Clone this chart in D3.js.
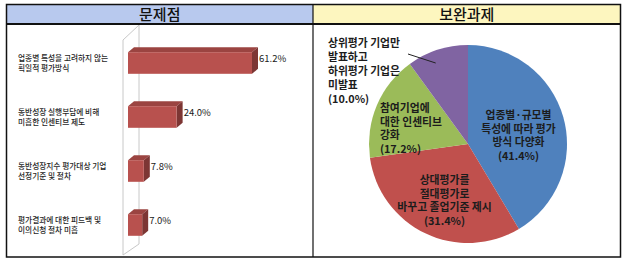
<!DOCTYPE html>
<html>
<head>
<meta charset="utf-8">
<script src="https://cdn.jsdelivr.net/npm/d3@7"></script>
<style>
  body { margin: 0; background: #fff; }
  svg { display: block; }
  text { font-family: "Noto Sans CJK KR", "Noto Sans", sans-serif; }
</style>
</head>
<body>
<svg width="627" height="266"></svg>
<script>
'use strict'

// left chart: problems
const barCategories = [
    ['업종별 특성을 고려하지 않는', '획일적 평가방식'],
    ['동반성장 실행부담에 비해', '미흡한 인센티브 제도'],
    ['동반성장지수 평가대상 기업', '선정기준 및 절차'],
    ['평가결과에 대한 피드백 및', '이의신청 절차 미흡']
]
const barValues = [61.2, 24.0, 7.8, 7.0]

// right chart: remedies
const pieLabels = [
    ['업종별·규모별', '특성에 따라 평가', '방식 다양화'],
    ['상대평가를', '절대평가로', '바꾸고 졸업기준 제시'],
    ['참여기업에', '대한 인센티브', '강화'],
    ['상위평가 기업만', '발표하고', '하위평가 기업은', '미발표']
]
const pieValues = [41.4, 31.4, 17.2, 10.0]

const headers = ['문제점', '보완과제']
const pieColors = ['#4f81bd', '#c0504d', '#9bbb59', '#8064a2']

const svg = d3.select('svg')

// table frame
const tLeft = 6.5, tRight = 620.5, tTop = 4.5, tBottom = 257, tMid = 313, headBottom = 24

svg.append('rect')
    .attr('x', tLeft).attr('y', tTop)
    .attr('width', tMid - tLeft).attr('height', headBottom - tTop)
    .attr('fill', '#b8c9ee')
svg.append('rect')
    .attr('x', tMid).attr('y', tTop)
    .attr('width', tRight - tMid).attr('height', headBottom - tTop)
    .attr('fill', '#fdf6bf')

svg.selectAll('.head')
    .data(headers)
    .enter()
    .append('text')
    .attr('class', 'head')
    .attr('x', (d, i) => i === 0 ? (tLeft + tMid) / 2 : (tMid + tRight) / 2)
    .attr('y', 14.5)
    .attr('dy', '0.35em')
    .attr('text-anchor', 'middle')
    .attr('font-size', 15)
    .attr('font-weight', 500)
    .attr('fill', '#111')
    .text((d) => d)

// ---------- bar chart ----------
const xScale = d3.scaleLinear()
    .domain([0, 61.2])
    .range([128, 252])

const yScale = d3.scaleBand()
    .domain(d3.range(barValues.length))
    .range([36, 252])
    .paddingInner(0.6)
    .paddingOuter(0.3)

const dx = 6, dy = -5
const x0 = xScale(0)

// 3d walls
const wall = svg.append('g')
    .attr('stroke', '#c8c8c8')
    .attr('stroke-width', 1)
    .attr('fill', 'none')
wall.append('path').attr('d', `M${x0 - 5},40 L${x0 - 5},255 L${x0 + 11},244 L${x0 + 11},25`)
wall.append('path').attr('d', `M${x0 - 5},40 L${x0 + 11},25`)

const barGroups = svg.selectAll('.bar')
    .data(barValues)
    .enter()
    .append('g')
    .attr('class', 'bar')

const bw = yScale.bandwidth()

barGroups.append('path')
    .attr('fill', '#9b4441')
    .attr('d', (d, i) => {
        const y = yScale(i), x1 = xScale(d)
        return `M${x0},${y} L${x1},${y} L${x1 + dx},${y + dy} L${x0 + dx},${y + dy} Z`
    })

barGroups.append('path')
    .attr('fill', '#7d3634')
    .attr('d', (d, i) => {
        const y = yScale(i), x1 = xScale(d)
        return `M${x1},${y} L${x1 + dx},${y + dy} L${x1 + dx},${y + bw + dy} L${x1},${y + bw} Z`
    })

barGroups.append('rect')
    .attr('x', x0)
    .attr('y', (d, i) => yScale(i))
    .attr('width', (d) => xScale(d) - x0)
    .attr('height', bw)
    .attr('fill', '#b8514e')

barGroups.append('text')
    .attr('x', (d) => xScale(d) + dx + 1)
    .attr('y', (d, i) => yScale(i) + bw / 2 - 4)
    .attr('dy', '0.35em')
    .attr('font-size', 9.5)
    .attr('fill', '#1a1a1a')
    .text((d) => `${d.toFixed(1)}%`)

const catText = svg.selectAll('.cat')
    .data(barCategories)
    .enter()
    .append('text')
    .attr('class', 'cat')
    .attr('x', 18)
    .attr('y', (d, i) => yScale(i) + bw / 2 - 4.5)
    .attr('font-size', 7.7)
    .attr('font-weight', 500)
    .attr('fill', '#1e1e1e')

catText.selectAll('tspan')
    .data((d) => d)
    .enter()
    .append('tspan')
    .attr('x', 18)
    .attr('dy', (d, i) => i === 0 ? '0.35em' : 9.5)
    .text((d) => d)

// ---------- pie chart ----------
const cx = 468, cy = 144, radius = 99

const pie = d3.pie()
    .sort(null)
    .value((d) => d)

const arcs = pie(pieValues)
const arc = d3.arc().innerRadius(0).outerRadius(radius)
const labelArc = d3.arc().innerRadius(radius * 0.55).outerRadius(radius * 0.55)
const outArc = d3.arc().innerRadius(radius * 0.86).outerRadius(radius * 0.86)

const pieG = svg.append('g')
    .attr('transform', `translate(${cx},${cy})`)

pieG.selectAll('path')
    .data(arcs)
    .enter()
    .append('path')
    .attr('d', arc)
    .attr('fill', (d, i) => pieColors[i])

// label placement tweaks (layout only)
const labelShift = [
    { x: -2, y: -14, anchor: 'middle' },
    { x: 0, y: -12.5, anchor: 'middle' },
    { x: -38, y: -14, anchor: 'start' },
    null
]

const pieText = pieG.selectAll('.plabel')
    .data(arcs)
    .enter()
    .append('text')
    .attr('class', 'plabel')
    .attr('font-size', 10.8)
    .attr('font-weight', 'bold')
    .attr('fill', '#1c1c1c')
    .attr('text-anchor', (d, i) => labelShift[i] ? labelShift[i].anchor : 'start')

pieText.each(function(d, i) {
    let px, py
    const lineH = i === 3 ? 14 : 13.5
    if (labelShift[i]) {
        const c = labelArc.centroid(d)
        px = c[0] + labelShift[i].x
        py = c[1] + labelShift[i].y
    } else {
        px = 328 - cx
        py = 43 - cy
    }
    const lines = pieLabels[i].concat([`(${pieValues[i].toFixed(1)}%)`])
    d3.select(this).selectAll('tspan')
        .data(lines)
        .enter()
        .append('tspan')
        .attr('x', px)
        .attr('y', (l, k) => py + k * lineH)
        .attr('dy', '0.35em')
        .text((l) => l)
})

// leader line for the outside label
const lp = outArc.centroid(arcs[3])
pieG.append('line')
    .attr('x1', 408 - cx)
    .attr('y1', 54 - cy)
    .attr('x2', lp[0] - 6)
    .attr('y2', lp[1])
    .attr('stroke', '#222')
    .attr('stroke-width', 1)

// table lines on top
svg.append('rect')
    .attr('x', tLeft).attr('y', tTop)
    .attr('width', tRight - tLeft).attr('height', tBottom - tTop)
    .attr('fill', 'none')
    .attr('stroke', '#111')
    .attr('stroke-width', 1.5)
svg.append('line')
    .attr('x1', tLeft).attr('x2', tRight)
    .attr('y1', headBottom).attr('y2', headBottom)
    .attr('stroke', '#111')
    .attr('stroke-width', 2)
svg.append('line')
    .attr('x1', tMid).attr('x2', tMid)
    .attr('y1', tTop).attr('y2', tBottom)
    .attr('stroke', '#111')
    .attr('stroke-width', 1.2)
</script>
</body>
</html>
